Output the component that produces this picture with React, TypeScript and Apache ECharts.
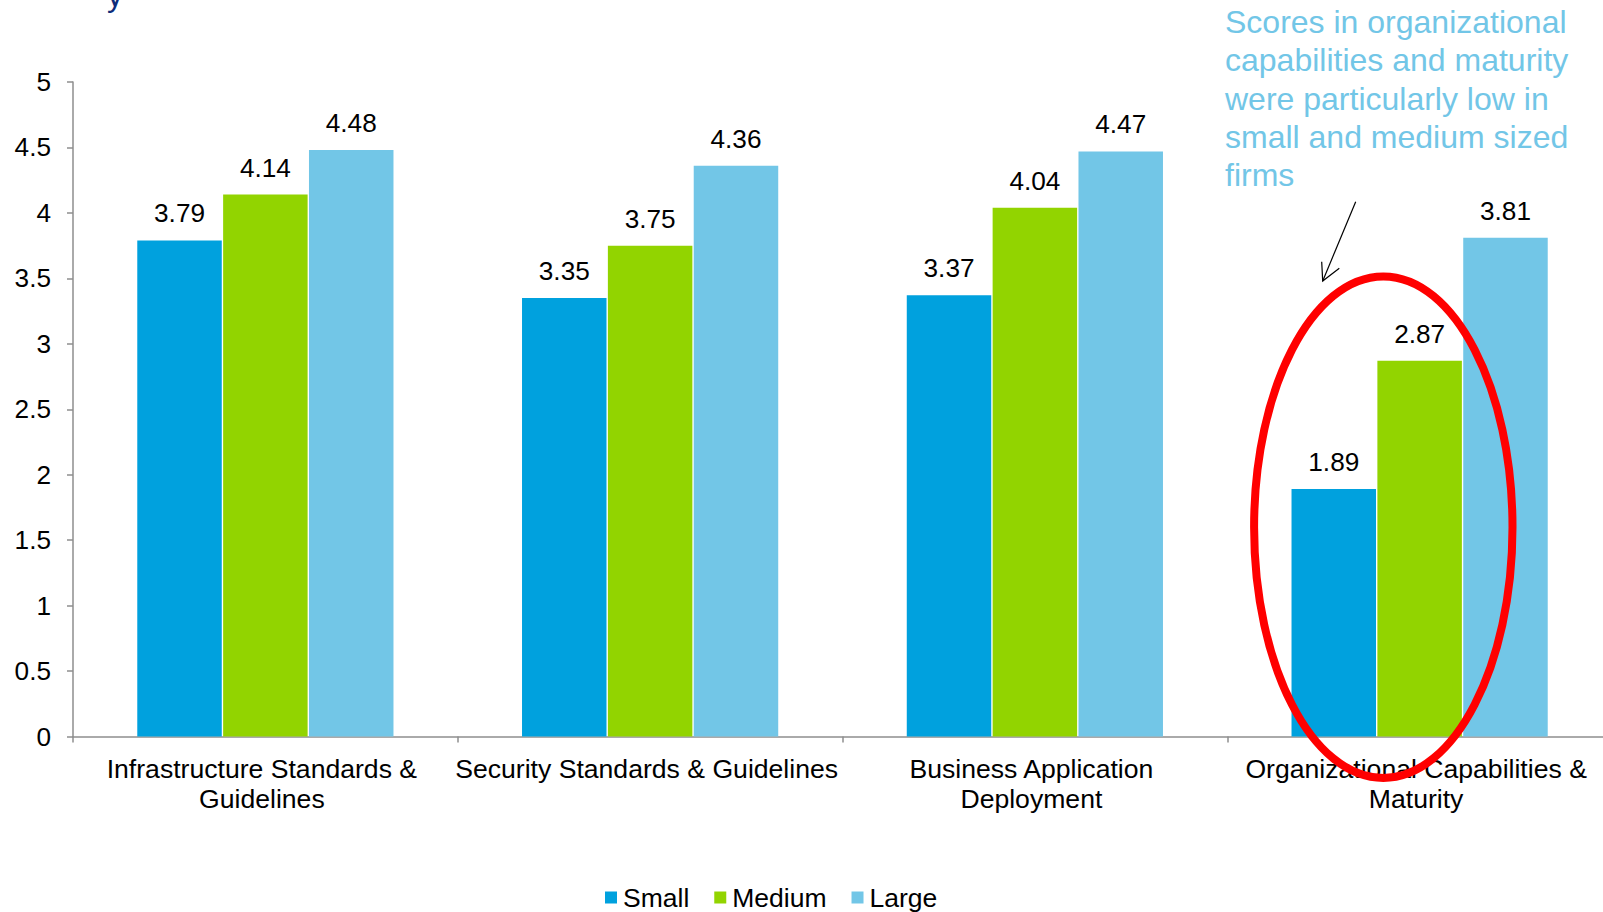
import React, { useEffect, useRef } from "react";
import * as echarts from "echarts";

const categories = [
  "Infrastructure Standards &\nGuidelines",
  "Security Standards & Guidelines",
  "Business Application\nDeployment",
  "Organizational Capabilities &\nMaturity",
];
const seriesNames = ["Small", "Medium", "Large"];
const smallValues = [3.79, 3.35, 3.37, 1.89];
const mediumValues = [4.14, 3.75, 4.04, 2.87];
const largeValues = [4.48, 4.36, 4.47, 3.81];
const colors = ["#00A1DE", "#92D400", "#72C6E7"];
const annotationText =
  "Scores in organizational\ncapabilities and maturity\nwere particularly low in\nsmall and medium sized\nfirms";

const FONT = "'Liberation Sans', Arial, sans-serif";

export default function App() {
  const ref = useRef<HTMLDivElement>(null);
  useEffect(() => {
    if (!ref.current) return;
    const chart = echarts.init(ref.current, null, { renderer: "svg" });
    const values = [smallValues, mediumValues, largeValues];
    const option: any = {
      animation: false,
      backgroundColor: "#ffffff",
      textStyle: { fontFamily: FONT },
      grid: {
        left: 73,
        top: 82,
        width: 1539,
        bottom: 175.5,
        containLabel: false,
        outerBoundsMode: "none",
      },
      legend: {
        left: 605,
        top: 884,
        padding: 0,
        icon: "rect",
        itemWidth: 12,
        itemHeight: 12,
        itemGap: 25,
        data: seriesNames,
        textStyle: { fontSize: 26.5, color: "#000", fontFamily: FONT, padding: [0, 0, 0, 1] },
      },
      xAxis: {
        type: "category",
        data: categories,
        axisLine: { lineStyle: { color: "#8E8E8E", width: 1.5 } },
        axisTick: { show: true, length: 6, lineStyle: { color: "#8E8E8E", width: 1.5 } },
        axisLabel: {
          interval: 0,
          margin: 17,
          fontSize: 26.6,
          lineHeight: 30,
          color: "#000",
          fontFamily: FONT,
          align: "center",
          padding: [0, 7, 0, 0],
        },
        splitLine: { show: false },
      },
      yAxis: {
        type: "value",
        min: 0,
        max: 5,
        interval: 0.5,
        axisLine: { show: true, lineStyle: { color: "#8E8E8E", width: 1.5 } },
        axisTick: { show: true, length: 6, lineStyle: { color: "#8E8E8E", width: 1.5 } },
        axisLabel: { margin: 22, fontSize: 26.2, color: "#000", fontFamily: FONT },
        splitLine: { show: false },
      },
      series: seriesNames.map((name, i) => ({
        name,
        type: "bar",
        data: values[i],
        barWidth: 84.5,
        barGap: "1.6%",
        itemStyle: { color: colors[i] },
        label: {
          show: true,
          position: "top",
          distance: 14,
          fontSize: 26.2,
          color: "#000",
          fontFamily: FONT,
        },
      })),
      graphic: [
        {
          type: "text",
          left: 1225,
          top: 3,
          z: 50,
          style: {
            text: annotationText,
            fontSize: 32,
            lineHeight: 38.3,
            fill: "#72C6E7",
            fontFamily: FONT,
          },
        },
        {
          type: "text",
          x: 107,
          y: -5,
          z: 50,
          style: {
            text: "y",
            fontSize: 32,
            fill: "#0D2C7A",
            fontFamily: FONT,
            verticalAlign: "middle",
          },
        },
        {
          type: "line",
          z: 60,
          shape: { x1: 1355.7, y1: 201.7, x2: 1322.7, y2: 281 },
          style: { stroke: "#000", lineWidth: 1.2 },
        },
        {
          type: "polyline",
          z: 60,
          shape: {
            points: [
              [1321.7, 261.7],
              [1322.7, 281],
              [1339.3, 268.3],
            ],
          },
          style: { stroke: "#000", lineWidth: 1.2, fill: "none" },
        },
        {
          type: "ellipse",
          z: 100,
          shape: { cx: 1383.3, cy: 527.2, rx: 129.2, ry: 250.7 },
          style: { fill: "none", stroke: "#FF0000", lineWidth: 8 },
        },
      ],
    };
    chart.setOption(option);
    return () => chart.dispose();
  }, []);
  return (
    <div
      ref={ref}
      style={{ position: "fixed", left: 0, top: 0, width: 1603, height: 912, background: "#fff" }}
    />
  );
}
